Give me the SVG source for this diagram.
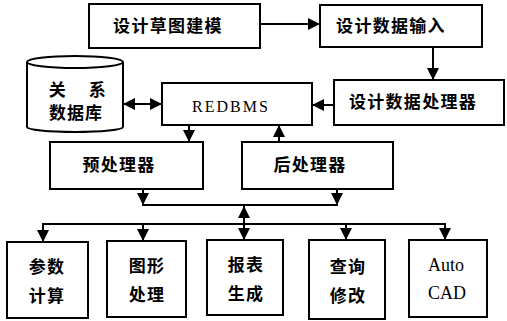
<svg xmlns="http://www.w3.org/2000/svg" width="507" height="321" viewBox="0 0 507 321">
<style>
.box{fill:#fff;stroke:#000;stroke-width:2}
.ln{fill:none;stroke:#000;stroke-width:2}
.cn{font-family:"Noto Sans CJK SC","Noto Sans",sans-serif;font-size:17px;font-weight:bold;letter-spacing:1.3px;text-anchor:middle;fill:#000}
.lt{font-family:"Liberation Serif",serif;font-size:18px;text-anchor:middle;fill:#000}
</style>
<defs>
<marker id="ah" markerUnits="userSpaceOnUse" markerWidth="13" markerHeight="13" refX="12" refY="6.5" orient="auto-start-reverse">
<path d="M0,0.5 L12,6.5 L0,12.5 Z" fill="#000"/>
</marker>
</defs>
<rect width="507" height="321" fill="#fff"/>
<g id="n-sketch"><rect class="box" x="89" y="4" width="171" height="44"/><text class="cn" x="168" y="32">设计草图建模</text></g>
<g id="n-input"><rect class="box" x="320" y="5" width="162" height="42"/><text class="cn" x="391" y="32">设计数据输入</text></g>
<g id="n-proc"><rect class="box" x="334" y="80" width="170" height="45"/><text class="cn" x="413" y="108">设计数据处理器</text></g>
<g id="n-redbms"><rect class="box" x="162" y="83" width="150" height="42"/><text class="lt" x="231" y="112" style="font-size:16px;letter-spacing:2px">REDBMS</text></g>
<g id="n-db">
<path class="box" d="M27,62 L27,127 A48,5 0 0 0 123,127 L123,62"/>
<ellipse class="box" cx="75" cy="62" rx="48" ry="6"/>
<text class="cn" x="58" y="96">关</text>
<text class="cn" x="98" y="96">系</text>
<text class="cn" x="76" y="119" style="letter-spacing:1px">数据库</text>
</g>
<g id="n-pre"><rect class="box" x="50" y="142" width="153" height="47"/><text class="cn" x="119" y="171">预处理器</text></g>
<g id="n-post"><rect class="box" x="242" y="142" width="151" height="47"/><text class="cn" x="310" y="171">后处理器</text></g>
<g id="n-calc"><rect class="box" x="7" y="242" width="81" height="76"/><text class="cn" x="47" y="273">参数</text><text class="cn" x="47" y="302">计算</text></g>
<g id="n-graph"><rect class="box" x="107" y="241" width="79" height="76"/><text class="cn" x="147" y="272">图形</text><text class="cn" x="147" y="301">处理</text></g>
<g id="n-report"><rect class="box" x="207" y="240" width="76" height="75"/><text class="cn" x="246" y="271">报表</text><text class="cn" x="246" y="300">生成</text></g>
<g id="n-query"><rect class="box" x="309" y="240" width="76" height="79"/><text class="cn" x="348" y="273">查询</text><text class="cn" x="348" y="302">修改</text></g>
<g id="n-cad"><rect class="box" x="409" y="240" width="78" height="77"/><text class="lt" x="446" y="271">Auto</text><text class="lt" x="447" y="299">CAD</text></g>
<g id="connectors">
<line class="ln" x1="260" y1="24" x2="320" y2="24" marker-end="url(#ah)"/>
<line class="ln" x1="433" y1="47" x2="433" y2="80" marker-end="url(#ah)"/>
<line class="ln" x1="334" y1="105" x2="312" y2="105" marker-end="url(#ah)"/>
<line class="ln" x1="123" y1="104" x2="162" y2="104" marker-start="url(#ah)" marker-end="url(#ah)"/>
<line class="ln" x1="189" y1="125" x2="189" y2="142" marker-end="url(#ah)"/>
<line class="ln" x1="279" y1="142" x2="279" y2="125" marker-end="url(#ah)"/>
<line class="ln" x1="143" y1="189" x2="143" y2="205" marker-end="url(#ah)"/>
<line class="ln" x1="337" y1="189" x2="337" y2="205" marker-end="url(#ah)"/>
<line class="ln" x1="142" y1="205" x2="338" y2="205"/>
<line class="ln" x1="244" y1="224" x2="244" y2="206" marker-end="url(#ah)"/>
<line class="ln" x1="42" y1="224" x2="446" y2="224"/>
<line class="ln" x1="43" y1="224" x2="43" y2="242" marker-end="url(#ah)"/>
<line class="ln" x1="143" y1="224" x2="143" y2="241" marker-end="url(#ah)"/>
<line class="ln" x1="244" y1="224" x2="244" y2="240" marker-end="url(#ah)"/>
<line class="ln" x1="346" y1="224" x2="346" y2="240" marker-end="url(#ah)"/>
<line class="ln" x1="445" y1="224" x2="445" y2="240" marker-end="url(#ah)"/>
</g>
</svg>
